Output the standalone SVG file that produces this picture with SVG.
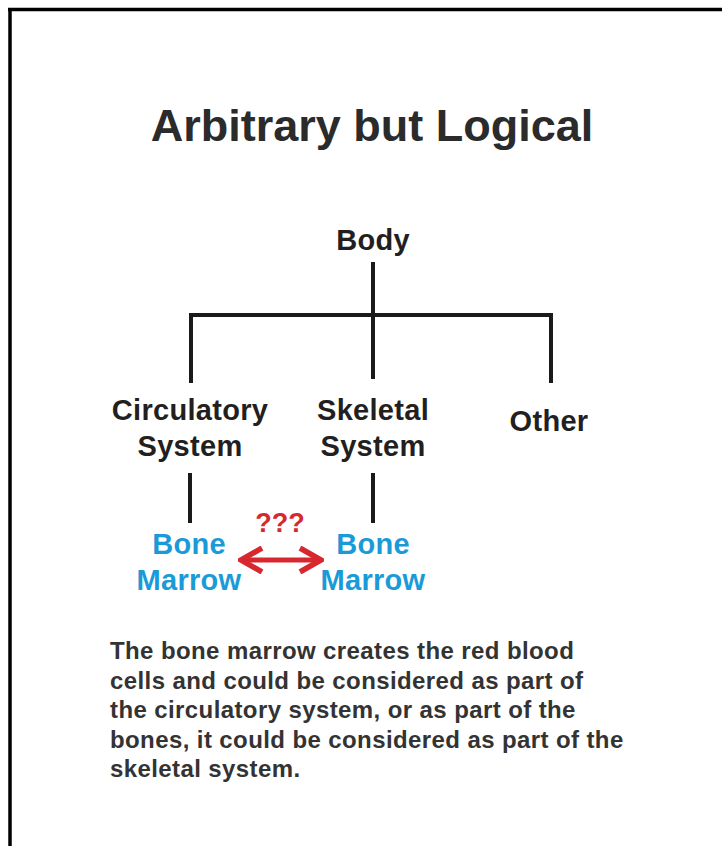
<svg xmlns="http://www.w3.org/2000/svg" width="722" height="846" viewBox="0 0 722 846">
<style>
.t{font-family:"Liberation Sans",Arial,sans-serif;font-weight:bold}
.title{font-size:45px;fill:#2b2b2b}
.lbl{font-size:29px;fill:#231f20;text-anchor:middle;letter-spacing:0.3px}
.blue{font-size:29px;fill:#1b9ad8;text-anchor:middle;letter-spacing:0.3px}
.q{font-size:27px;fill:#d7282f;text-anchor:middle}
.para{font-size:24px;fill:#333333;letter-spacing:0.4px}
.ln{stroke:#1a1a1a;stroke-width:4;fill:none}
</style>
<defs>
<marker id="chev" viewBox="0 0 26 28" refX="23" refY="14" markerWidth="26" markerHeight="28" markerUnits="userSpaceOnUse" orient="auto-start-reverse">
<path d="M2,2 L23,14 L2,26" fill="none" stroke="#d7282f" stroke-width="5.5"/>
</marker>
</defs>
<rect width="722" height="846" fill="#ffffff"/>
<g id="frame">
<line x1="8" y1="9.5" x2="722" y2="9.5" stroke="#000" stroke-width="3.5"/>
<line x1="10" y1="8" x2="10" y2="846" stroke="#000" stroke-width="3.5"/>
</g>
<g id="title"><text class="t title" x="372" y="141" text-anchor="middle">Arbitrary but Logical</text></g>
<g id="connectors">
<line class="ln" x1="373" y1="262" x2="373" y2="379"/>
<polyline class="ln" points="191,383 191,315 551,315 551,383"/>
<line class="ln" x1="190" y1="473" x2="190" y2="523"/>
<line class="ln" x1="373" y1="473" x2="373" y2="523"/>
<line x1="241" y1="560" x2="321" y2="560" stroke="#d7282f" stroke-width="5" marker-start="url(#chev)" marker-end="url(#chev)"/>
</g>
<g id="body"><text class="t lbl" x="373" y="250">Body</text></g>
<g id="circulatory"><text class="t lbl" x="190" y="420">Circulatory</text><text class="t lbl" x="190" y="456">System</text></g>
<g id="skeletal"><text class="t lbl" x="373" y="420">Skeletal</text><text class="t lbl" x="373" y="456">System</text></g>
<g id="other"><text class="t lbl" x="549" y="431">Other</text></g>
<g id="marrow1"><text class="t blue" x="189" y="554">Bone</text><text class="t blue" x="189" y="590">Marrow</text></g>
<g id="marrow2"><text class="t blue" x="373" y="554">Bone</text><text class="t blue" x="373" y="590">Marrow</text></g>
<g id="question"><text class="t q" x="280" y="532">???</text></g>
<g id="note">
<text class="t para" x="110" y="659">The bone marrow creates the red blood</text>
<text class="t para" x="110" y="689">cells and could be considered as part of</text>
<text class="t para" x="110" y="718">the circulatory system, or as part of the</text>
<text class="t para" x="110" y="748">bones, it could be considered as part of the</text>
<text class="t para" x="110" y="777">skeletal system.</text>
</g>
</svg>
